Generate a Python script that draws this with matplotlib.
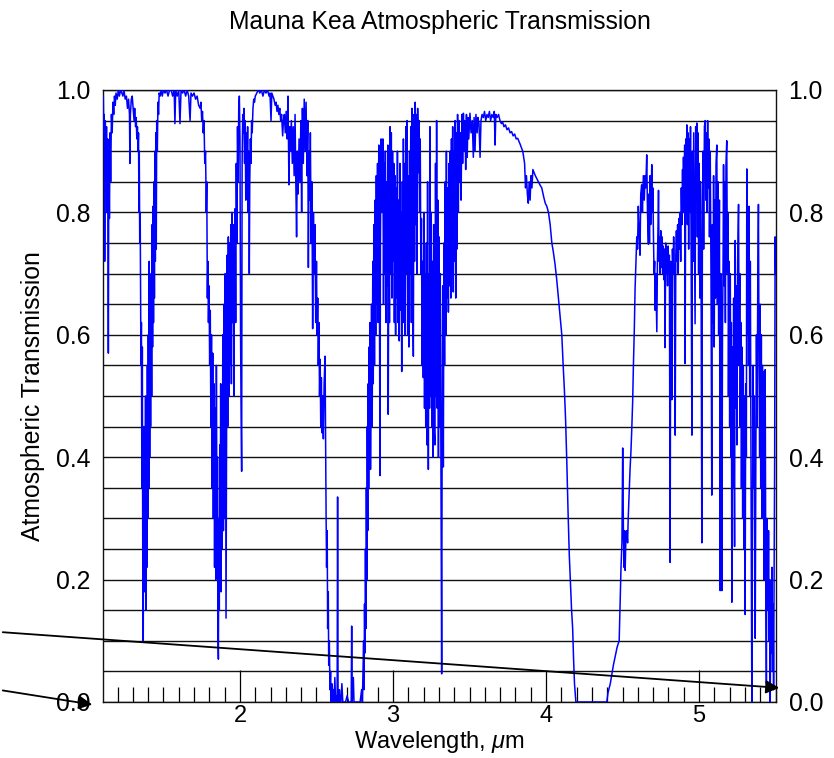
import numpy as np
import matplotlib
matplotlib.use("Agg")
import matplotlib.pyplot as plt
from matplotlib.ticker import MultipleLocator, FormatStrFormatter
from matplotlib.patches import FancyArrowPatch

plt.rcParams['font.family'] = ['Liberation Sans', 'DejaVu Sans']
plt.rcParams['mathtext.fontset'] = 'custom'
plt.rcParams['mathtext.rm'] = 'Liberation Sans'
plt.rcParams['mathtext.it'] = 'Liberation Sans:italic'

# transmission, wavelength in micron
wl_j = [1.107, 1.110, 1.113, 1.116, 1.120, 1.124, 1.128, 1.132, 1.136, 1.140,
        1.143, 1.147, 1.151, 1.155, 1.160, 1.165, 1.170, 1.175, 1.180, 1.185,
        1.190, 1.198, 1.205, 1.212, 1.220, 1.228, 1.235, 1.242, 1.250, 1.258,
        1.265, 1.272, 1.278, 1.281, 1.284, 1.290, 1.296, 1.302, 1.308, 1.312,
        1.318, 1.322, 1.326, 1.330, 1.334, 1.337, 1.340, 1.342, 1.345, 1.348,
        1.351, 1.353, 1.356, 1.359, 1.362, 1.365, 1.368, 1.371, 1.374, 1.377,
        1.380, 1.383, 1.386, 1.389, 1.392, 1.395, 1.398, 1.401, 1.404, 1.407,
        1.410, 1.413, 1.416, 1.420, 1.423, 1.426, 1.429, 1.432, 1.435, 1.438,
        1.441, 1.444, 1.447, 1.450, 1.453, 1.456, 1.460, 1.464, 1.468, 1.472]
tr_j = [0.99, 0.93, 0.96, 0.72, 0.95, 0.88, 0.94, 0.80, 0.92, 0.57,
        0.90, 0.79, 0.93, 0.85, 0.96, 0.93, 0.98, 0.96, 0.99, 0.975,
        0.995, 0.985, 1.0, 0.99, 1.0, 0.995, 0.99, 1.0, 0.985, 0.99,
        0.97, 0.985, 0.96, 0.88, 0.96, 0.985, 0.99, 0.97, 0.95, 0.97,
        0.94, 0.955, 0.92, 0.94, 0.90, 0.93, 0.80, 0.90, 0.75, 0.80,
        0.66, 0.55, 0.62, 0.35, 0.58, 0.20, 0.10, 0.45, 0.18, 0.40,
        0.25, 0.50, 0.15, 0.42, 0.22, 0.55, 0.30, 0.60, 0.35, 0.72,
        0.40, 0.62, 0.45, 0.70, 0.50, 0.78, 0.58, 0.81, 0.62, 0.85,
        0.66, 0.90, 0.72, 0.93, 0.74, 0.95, 0.90, 0.98, 0.96, 0.995]

wl_h = [1.478, 1.485, 1.492, 1.500, 1.510, 1.520, 1.530, 1.540, 1.550, 1.560,
        1.570, 1.575, 1.580, 1.590, 1.600, 1.608, 1.615, 1.625, 1.635, 1.645,
        1.655, 1.665, 1.674, 1.680, 1.690, 1.700, 1.710, 1.720, 1.730, 1.740,
        1.745, 1.750, 1.755, 1.760, 1.765, 1.770, 1.775, 1.780, 1.783, 1.787,
        1.790, 1.794, 1.798, 1.802, 1.806, 1.810, 1.814, 1.818, 1.822, 1.826,
        1.830, 1.834, 1.838, 1.842, 1.846, 1.850, 1.853, 1.856, 1.859, 1.862,
        1.865, 1.868, 1.871, 1.874, 1.877, 1.880, 1.884, 1.888, 1.892, 1.896,
        1.900, 1.904, 1.907, 1.909, 1.912, 1.916, 1.920, 1.924, 1.928, 1.932,
        1.936, 1.940, 1.944, 1.948, 1.952, 1.956, 1.960, 1.964, 1.968, 1.972,
        1.976, 1.980, 1.984, 1.988, 1.992, 1.996, 2.000, 2.004, 2.007, 2.011]
tr_h = [0.99, 1.0, 0.99, 1.0, 0.995, 1.0, 0.99, 1.0, 1.0, 0.99,
        1.0, 0.945, 1.0, 0.99, 1.0, 0.945, 1.0, 0.995, 1.0, 0.99,
        1.0, 0.99, 0.95, 0.995, 0.99, 0.995, 0.985, 0.99, 0.975, 0.97,
        0.98, 0.95, 0.965, 0.93, 0.95, 0.88, 0.90, 0.80, 0.85, 0.66,
        0.72, 0.62, 0.68, 0.55, 0.64, 0.45, 0.60, 0.35, 0.57, 0.30,
        0.52, 0.22, 0.48, 0.20, 0.55, 0.25, 0.40, 0.12, 0.07, 0.30,
        0.15, 0.42, 0.20, 0.52, 0.18, 0.45, 0.25, 0.60, 0.28, 0.65,
        0.30, 0.70, 0.35, 0.137, 0.40, 0.73, 0.45, 0.76, 0.50, 0.75,
        0.55, 0.78, 0.52, 0.80, 0.62, 0.78, 0.50, 0.72, 0.806, 0.62,
        0.88, 0.75, 0.94, 0.85, 0.97, 0.99, 0.92, 0.60, 0.49, 0.377]

wl_k = [2.014, 2.018, 2.022, 2.026, 2.030, 2.034, 2.038, 2.042, 2.046, 2.050,
        2.054, 2.058, 2.061, 2.064, 2.068, 2.072, 2.076, 2.080, 2.085, 2.090,
        2.095, 2.100, 2.110, 2.120, 2.130, 2.140, 2.150, 2.160, 2.170, 2.180,
        2.190, 2.196, 2.203, 2.208, 2.215, 2.222, 2.230, 2.236, 2.242, 2.248,
        2.254, 2.260, 2.266, 2.272, 2.279, 2.284, 2.290, 2.296, 2.302, 2.308,
        2.314, 2.320, 2.325, 2.330, 2.336, 2.342, 2.348, 2.354, 2.360, 2.365,
        2.370, 2.375, 2.380, 2.386, 2.392, 2.398, 2.403, 2.408, 2.414, 2.420,
        2.426, 2.432, 2.438, 2.443, 2.447, 2.452, 2.456, 2.460, 2.465, 2.470,
        2.475, 2.480, 2.485, 2.490, 2.495, 2.500, 2.504, 2.508, 2.512, 2.516,
        2.520, 2.524, 2.528, 2.532, 2.536, 2.540, 2.545, 2.550, 2.556, 2.560,
        2.563, 2.566, 2.570, 2.573, 2.577, 2.580, 2.584, 2.588, 2.592, 2.596,
        2.600, 2.605, 2.610, 2.615, 2.620, 2.625, 2.630, 2.635, 2.638, 2.641,
        2.646, 2.650, 2.655, 2.660, 2.666, 2.672, 2.680, 2.690, 2.700, 2.710,
        2.720, 2.727, 2.730, 2.733, 2.741, 2.745, 2.755, 2.765, 2.775, 2.785,
        2.795, 2.800, 2.804, 2.808, 2.811, 2.814, 2.817, 2.820, 2.823, 2.826,
        2.829, 2.832, 2.835, 2.838, 2.841, 2.844, 2.847, 2.850, 2.853, 2.856,
        2.860, 2.864, 2.868, 2.871, 2.875, 2.879, 2.883, 2.887, 2.891, 2.895,
        2.899, 2.903, 2.907, 2.911, 2.915, 2.918, 2.922, 2.926]
tr_k = [0.88, 0.96, 0.93, 0.97, 0.88, 0.95, 0.82, 0.93, 0.86, 0.94,
        0.80, 0.90, 0.70, 0.85, 0.92, 0.88, 0.95, 0.93, 0.97, 0.985,
        0.98, 0.99, 0.995, 1.0, 0.995, 1.0, 0.99, 1.0, 0.995, 1.0,
        0.99, 0.995, 0.95, 0.995, 0.99, 0.985, 0.975, 0.98, 0.965, 0.975,
        0.96, 0.97, 0.95, 0.96, 0.925, 0.95, 0.96, 0.93, 0.965, 0.92,
        0.99, 0.845, 0.94, 0.90, 0.95, 0.88, 0.94, 0.86, 0.96, 0.85,
        0.76, 0.90, 0.83, 0.92, 0.85, 0.95, 0.80, 0.97, 0.88, 0.985,
        0.90, 0.98, 0.86, 0.95, 0.71, 0.90, 0.82, 0.93, 0.75, 0.85,
        0.61, 0.80, 0.70, 0.78, 0.62, 0.72, 0.60, 0.66, 0.55, 0.62,
        0.50, 0.56, 0.45, 0.53, 0.44, 0.50, 0.43, 0.52, 0.565, 0.40,
        0.30, 0.22, 0.28, 0.12, 0.18, 0.06, 0.10, 0.02, 0.05, 0.0,
        0.03, 0.0, 0.02, 0.0, 0.04, 0.0, 0.01, 0.0, 0.335, 0.0,
        0.0, 0.02, 0.0, 0.0, 0.03, 0.0, 0.0, 0.0, 0.01, 0.0,
        0.0, 0.0, 0.124, 0.0, 0.04, 0.0, 0.0, 0.0, 0.0, 0.0,
        0.02, 0.0, 0.05, 0.10, 0.02, 0.16, 0.08, 0.25, 0.12, 0.35,
        0.20, 0.45, 0.28, 0.52, 0.35, 0.58, 0.42, 0.62, 0.38, 0.50,
        0.65, 0.45, 0.72, 0.52, 0.78, 0.55, 0.82, 0.60, 0.86, 0.65,
        0.88, 0.62, 0.91, 0.70, 0.37, 0.75, 0.92, 0.85]

wl_l = [2.930, 2.934, 2.938, 2.942, 2.946, 2.950, 2.954, 2.958, 2.962, 2.966,
        2.969, 2.973, 2.977, 2.981, 2.985, 2.989, 2.993, 2.997, 3.001, 3.005,
        3.009, 3.013, 3.017, 3.021, 3.025, 3.029, 3.033, 3.037, 3.041, 3.045,
        3.049, 3.053, 3.057, 3.061, 3.065, 3.068, 3.072, 3.076, 3.080, 3.084,
        3.088, 3.092, 3.096, 3.100, 3.104, 3.108, 3.112, 3.116, 3.120, 3.124,
        3.128, 3.133, 3.137, 3.141, 3.145, 3.149, 3.153, 3.157, 3.161, 3.166,
        3.170, 3.174, 3.178, 3.182, 3.186, 3.190, 3.194, 3.198, 3.202, 3.206,
        3.210, 3.214, 3.218, 3.222, 3.226, 3.231, 3.235, 3.239, 3.242, 3.246,
        3.250, 3.254, 3.258, 3.262, 3.266, 3.270, 3.274, 3.278, 3.282, 3.285,
        3.289, 3.293, 3.297, 3.301, 3.305, 3.309, 3.313, 3.318, 3.321, 3.325,
        3.329, 3.333, 3.337, 3.341, 3.345, 3.349, 3.353, 3.357, 3.362, 3.366,
        3.370, 3.374, 3.378, 3.382, 3.386, 3.390, 3.394, 3.398, 3.402, 3.406,
        3.410, 3.414, 3.418, 3.422, 3.427, 3.431, 3.435, 3.440, 3.445, 3.450,
        3.455, 3.460, 3.465, 3.470, 3.475, 3.480, 3.485, 3.490, 3.495, 3.503,
        3.510, 3.518, 3.525, 3.530, 3.536, 3.542, 3.550, 3.555, 3.562, 3.569,
        3.575, 3.582, 3.590, 3.598, 3.606, 3.614, 3.622, 3.630, 3.638, 3.646,
        3.655, 3.662, 3.667, 3.672, 3.680, 3.690, 3.699, 3.708, 3.716, 3.725,
        3.735, 3.745, 3.755, 3.765, 3.775, 3.785, 3.795, 3.805, 3.815, 3.825,
        3.833, 3.840, 3.848, 3.860, 3.866, 3.872, 3.878, 3.884, 3.890, 3.896,
        3.902, 3.908, 3.914, 3.922, 3.930, 3.940, 3.950, 3.960, 3.972, 3.985,
        3.995, 4.005, 4.016, 4.027, 4.038, 4.048, 4.059, 4.070, 4.081, 4.092,
        4.103, 4.112, 4.120, 4.128, 4.136, 4.144, 4.152, 4.160, 4.167, 4.174,
        4.180, 4.186, 4.195, 4.250, 4.320, 4.397]
tr_l = [0.80, 0.92, 0.65, 0.88, 0.70, 0.90, 0.62, 0.85, 0.68, 0.91,
        0.47, 0.82, 0.62, 0.94, 0.70, 0.93, 0.66, 0.90, 0.72, 0.88,
        0.62, 0.86, 0.60, 0.84, 0.66, 0.90, 0.62, 0.82, 0.59, 0.88,
        0.64, 0.80, 0.54, 0.85, 0.62, 0.92, 0.66, 0.88, 0.60, 0.94,
        0.70, 0.95, 0.60, 0.86, 0.58, 0.90, 0.70, 0.94, 0.62, 0.97,
        0.70, 0.565, 0.96, 0.72, 0.98, 0.78, 0.96, 0.70, 0.97, 0.865,
        0.95, 0.80, 0.92, 0.70, 0.79, 0.55, 0.72, 0.53, 0.80, 0.48,
        0.70, 0.45, 0.75, 0.42, 0.85, 0.38, 0.70, 0.48, 0.94, 0.50,
        0.80, 0.45, 0.72, 0.40, 0.78, 0.44, 0.42, 0.88, 0.50, 0.95,
        0.48, 0.82, 0.40, 0.76, 0.45, 0.70, 0.40, 0.046, 0.42, 0.68,
        0.384, 0.75, 0.55, 0.85, 0.60, 0.90, 0.66, 0.84, 0.637, 0.88,
        0.68, 0.90, 0.66, 0.92, 0.70, 0.94, 0.67, 0.90, 0.72, 0.95,
        0.66, 0.93, 0.74, 0.96, 0.80, 0.95, 0.85, 0.93, 0.82, 0.96,
        0.88, 0.962, 0.90, 0.95, 0.87, 0.96, 0.89, 0.955, 0.92, 0.962,
        0.93, 0.95, 0.89, 0.955, 0.90, 0.96, 0.93, 0.955, 0.945, 0.89,
        0.95, 0.96, 0.955, 0.965, 0.95, 0.96, 0.955, 0.965, 0.95, 0.96,
        0.955, 0.965, 0.91, 0.96, 0.955, 0.96, 0.95, 0.945, 0.948, 0.94,
        0.943, 0.935, 0.938, 0.93, 0.932, 0.925, 0.928, 0.92, 0.921, 0.915,
        0.91, 0.905, 0.90, 0.88, 0.84, 0.86, 0.83, 0.815, 0.85, 0.82,
        0.86, 0.84, 0.87, 0.865, 0.86, 0.855, 0.85, 0.845, 0.84, 0.825,
        0.815, 0.81, 0.80, 0.78, 0.75, 0.735, 0.715, 0.69, 0.66, 0.63,
        0.60, 0.55, 0.51, 0.46, 0.39, 0.31, 0.24, 0.19, 0.15, 0.12,
        0.07, 0.03, 0.0, 0.0, 0.0, 0.0]

wl_m = [4.405, 4.420, 4.440, 4.451, 4.465, 4.478, 4.484, 4.490, 4.496, 4.501,
        4.506, 4.510, 4.514, 4.517, 4.522, 4.528, 4.533, 4.537, 4.543, 4.549,
        4.555, 4.560, 4.566, 4.571, 4.577, 4.582, 4.588, 4.593, 4.598,
        4.603, 4.608, 4.614, 4.619, 4.625, 4.630, 4.636, 4.642, 4.647, 4.652,
        4.658, 4.663, 4.669, 4.672, 4.676, 4.680, 4.684, 4.688, 4.691, 4.695,
        4.698, 4.702, 4.706, 4.710, 4.713, 4.717, 4.720, 4.724, 4.728, 4.732,
        4.735, 4.739, 4.743, 4.746, 4.750, 4.754, 4.758, 4.762, 4.766, 4.770,
        4.774, 4.778, 4.782, 4.786, 4.790, 4.794, 4.798, 4.802, 4.806, 4.811,
        4.815, 4.818, 4.822, 4.826, 4.830, 4.834, 4.838, 4.844, 4.848, 4.852,
        4.856, 4.860, 4.864, 4.868, 4.872, 4.876, 4.880, 4.884, 4.888, 4.892,
        4.895, 4.898, 4.902, 4.906, 4.909, 4.913, 4.917, 4.920, 4.924, 4.928,
        4.932, 4.936, 4.940, 4.944, 4.948, 4.953, 4.957, 4.961, 4.965, 4.969,
        4.974, 4.978, 4.981, 4.985, 4.989, 4.993, 4.997, 5.001, 5.005, 5.009,
        5.013, 5.018, 5.022, 5.026, 5.030, 5.035, 5.040, 5.044, 5.048, 5.052,
        5.056, 5.060, 5.064, 5.068, 5.073, 5.078, 5.083, 5.087, 5.091, 5.095,
        5.099, 5.103, 5.107, 5.111, 5.116, 5.120, 5.124, 5.128, 5.133, 5.138,
        5.142, 5.146, 5.149, 5.153, 5.157, 5.160, 5.164, 5.168, 5.172, 5.176,
        5.181, 5.185, 5.189, 5.192, 5.196, 5.200, 5.204, 5.208, 5.211, 5.214,
        5.218, 5.222, 5.226, 5.229, 5.232, 5.236, 5.240, 5.244, 5.247, 5.252,
        5.258, 5.262, 5.266, 5.269, 5.273, 5.277, 5.281, 5.285, 5.289, 5.293,
        5.297, 5.301, 5.305, 5.309, 5.312, 5.316, 5.320, 5.323, 5.327, 5.331,
        5.335, 5.339, 5.342, 5.345, 5.349, 5.353, 5.357, 5.361, 5.364, 5.367,
        5.371, 5.375, 5.379, 5.384, 5.388, 5.392, 5.396, 5.399, 5.403, 5.407,
        5.411, 5.414, 5.418, 5.421, 5.425, 5.429, 5.432, 5.436, 5.440, 5.443,
        5.447, 5.451, 5.454, 5.458, 5.462, 5.465, 5.469, 5.473, 5.476, 5.480,
        5.484, 5.487, 5.491, 5.494, 5.497, 5.500]
tr_m = [0.015, 0.03, 0.06, 0.073, 0.09, 0.10, 0.16, 0.22, 0.26, 0.415,
        0.27, 0.22, 0.28, 0.215, 0.27, 0.28, 0.26, 0.30, 0.34, 0.38,
        0.41, 0.444, 0.49, 0.55, 0.61, 0.676, 0.72, 0.76, 0.74,
        0.81, 0.77, 0.73, 0.83, 0.845, 0.80, 0.86, 0.82, 0.86, 0.84,
        0.894, 0.80, 0.748, 0.83, 0.75, 0.86, 0.78, 0.84, 0.878, 0.80,
        0.84, 0.761, 0.70, 0.72, 0.64, 0.70, 0.66, 0.605, 0.72, 0.78,
        0.836, 0.72, 0.76, 0.70, 0.77, 0.71, 0.76, 0.70, 0.745, 0.69,
        0.74, 0.579, 0.75, 0.70, 0.73, 0.68, 0.745, 0.70, 0.73, 0.228,
        0.72, 0.69, 0.494, 0.74, 0.70, 0.76, 0.71, 0.436, 0.73, 0.77,
        0.72, 0.78, 0.70, 0.79, 0.74, 0.80, 0.72, 0.84, 0.78, 0.87,
        0.80, 0.89, 0.82, 0.91, 0.553, 0.92, 0.80, 0.943, 0.78, 0.93,
        0.74, 0.92, 0.80, 0.94, 0.75, 0.436, 0.90, 0.72, 0.93, 0.78,
        0.618, 0.94, 0.82, 0.946, 0.76, 0.93, 0.70, 0.88, 0.66, 0.85,
        0.72, 0.26, 0.80, 0.90, 0.74, 0.94, 0.95, 0.82, 0.93, 0.80,
        0.95, 0.84, 0.92, 0.76, 0.90, 0.70, 0.338, 0.78, 0.62, 0.86,
        0.58, 0.82, 0.66, 0.88, 0.91, 0.65, 0.85, 0.60, 0.82, 0.182,
        0.70, 0.55, 0.182, 0.60, 0.72, 0.878, 0.68, 0.85, 0.62, 0.88,
        0.917, 0.70, 0.80, 0.50, 0.72, 0.45, 0.70, 0.40, 0.62, 0.163,
        0.58, 0.35, 0.66, 0.40, 0.254, 0.754, 0.48, 0.68, 0.42, 0.72,
        0.813, 0.55, 0.70, 0.45, 0.62, 0.35, 0.58, 0.30, 0.55, 0.25,
        0.50, 0.143, 0.52, 0.40, 0.871, 0.60, 0.78, 0.55, 0.81, 0.50,
        0.72, 0.40, 0.20, 0.0, 0.30, 0.55, 0.35, 0.50, 0.25, 0.104,
        0.40, 0.60, 0.45, 0.70, 0.813, 0.55, 0.40, 0.65, 0.35, 0.60,
        0.30, 0.55, 0.38, 0.54, 0.20, 0.45, 0.543, 0.20, 0.03, 0.30,
        0.25, 0.15, 0.28, 0.10, 0.20, 0.0, 0.18, 0.08, 0.22, 0.05,
        0.16, 0.02, 0.24, 0.40, 0.76, 0.70]

wavelength = np.concatenate([wl_j, wl_h, wl_k, wl_l, wl_m])
transmission = np.concatenate([tr_j, tr_h, tr_k, tr_l, tr_m])

fig = plt.figure(figsize=(8.34, 7.58), dpi=100)
ax = fig.add_axes([0.1235, 0.0739, 0.807, 0.8074])

ax.plot(wavelength, transmission, color="#0000ff", lw=1.1, zorder=3)

ax.set_xlim(1.105, 5.503)
ax.set_ylim(0, 1)

ax.xaxis.set_major_locator(MultipleLocator(1))
ax.xaxis.set_minor_locator(MultipleLocator(0.1))
ax.yaxis.set_major_locator(MultipleLocator(0.2))
ax.yaxis.set_minor_locator(MultipleLocator(0.05))
ax.yaxis.set_major_formatter(FormatStrFormatter("%.1f"))
ax.grid(True, which="both", axis="y", color="#111111", lw=1.0, zorder=1)

fs = 17.8
ax.tick_params(axis="x", which="major", direction="in", length=23, width=0.9,
               labelsize=17, pad=2, top=False)
ax.tick_params(axis="x", which="minor", direction="in", length=11, width=0.9, top=False)
ax.tick_params(axis="y", which="both", length=0, labelsize=fs, pad=9,
               labelleft=True, labelright=True)
for sp in ax.spines.values():
    sp.set_linewidth(1.0)
    sp.set_color("#111111")

fig.text(0.527, 0.971, "Mauna Kea Atmospheric Transmission", ha="center", va="center", fontsize=fs)
fig.text(0.039, 0.4776, "Atmospheric Transmission", ha="center", va="center",
         rotation=90, fontsize=fs)
fig.text(0.527, 0.021, r"Wavelength, $\mu$m", ha="center", va="center", fontsize=17)

# the two pointer arrows
arrow_a = FancyArrowPatch((0.0, 0.1662), (0.9376, 0.0923), transform=fig.transFigure,
                          arrowstyle="-|>", mutation_scale=20, color="black", lw=1.3)
arrow_b = FancyArrowPatch((0.0, 0.0897), (0.1139, 0.0699), transform=fig.transFigure,
                          arrowstyle="-|>", mutation_scale=20, color="black", lw=1.3)
fig.add_artist(arrow_a)
fig.add_artist(arrow_b)

fig.savefig("out.png", dpi=100)
